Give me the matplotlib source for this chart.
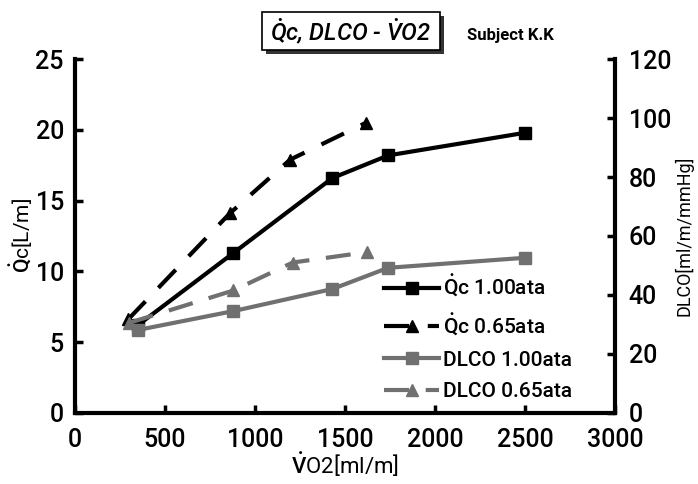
import matplotlib
matplotlib.use("Agg")
import matplotlib.pyplot as plt
from matplotlib.patches import Rectangle

# values
vo2_qc_100 = [350, 880, 1430, 1740, 2500]
qc_100 = [6.2, 11.3, 16.6, 18.2, 19.8]
vo2_qc_065 = [295, 860, 1195, 1615]
qc_065 = [6.6, 14.1, 17.9, 20.5]
vo2_dl_100 = [350, 880, 1430, 1740, 2500]
dlco_100 = [28.1, 34.5, 42.0, 49.2, 52.6]
vo2_dl_065 = [300, 880, 1210, 1620]
dlco_065 = [30.5, 41.5, 51.0, 54.5]

x_ticks = [0, 500, 1000, 1500, 2000, 2500, 3000]
left_ticks = [0, 5, 10, 15, 20, 25]
right_ticks = [0, 20, 40, 60, 80, 100, 120]

plt.rcParams["font.family"] = ["Roboto", "DejaVu Sans"]
plt.rcParams["font.weight"] = "medium"
plt.rcParams["mathtext.fontset"] = "custom"
plt.rcParams["mathtext.rm"] = "Roboto:medium"
plt.rcParams["mathtext.it"] = "Roboto:italic:medium"

fig = plt.figure(figsize=(6.98, 4.84), dpi=100)
ax = fig.add_axes([0.1075, 0.1473, 0.7735, 0.7302])
ax2 = ax.twinx()

gray = "#707070"
h1, = ax.plot(vo2_qc_100, qc_100, color="black", lw=3, marker="s", ms=8,
              label=r"$\dot{\mathrm{Q}}$c 1.00ata")
h2, = ax.plot(vo2_qc_065, qc_065, color="black", lw=3, marker="^", ms=8,
              dashes=(6, 4.5), label=r"$\dot{\mathrm{Q}}$c 0.65ata")
h3, = ax2.plot(vo2_dl_100, dlco_100, color=gray, lw=3, marker="s", ms=8,
               label="DLCO 1.00ata")
h4, = ax2.plot(vo2_dl_065, dlco_065, color=gray, lw=3, marker="^", ms=8,
               dashes=(6, 4), label="DLCO 0.65ata")

ax.set_xlim(0, 3000)
ax.set_ylim(0, 25)
ax2.set_ylim(0, 120)
ax.set_xticks(x_ticks)
ax.set_yticks(left_ticks)
ax2.set_yticks(right_ticks)

for a in (ax, ax2):
    a.spines["top"].set_visible(False)
    for s in a.spines.values():
        s.set_linewidth(3)
    a.tick_params(direction="in", length=6, width=2.5, labelsize=18)
ax.tick_params(axis="x", pad=11)
ax.tick_params(axis="y", pad=8)
ax2.tick_params(axis="y", pad=10)
ax2.spines["left"].set_visible(False)
ax2.spines["bottom"].set_visible(False)
ax.spines["right"].set_visible(False)

ax.set_xlabel(r"$\dot{\mathrm{V}}$O2[ml/m]", fontsize=16, labelpad=-1)
ax.set_ylabel(r"$\dot{\mathrm{Q}}$c[L/m]", fontsize=15, labelpad=0)
ax2.set_ylabel("DLCO[ml/m/mmHg]", fontsize=13, labelpad=2)

ax.legend(handles=[h1, h2, h3, h4], loc="lower right",
          bbox_to_anchor=(0.955, -0.02), frameon=False, fontsize=15,
          handlelength=2.6, handletextpad=0.2, labelspacing=0.6)

# boxed title with a drop shadow
fig.patches.append(Rectangle((0.3811, 0.8884), 0.255, 0.0785, transform=fig.transFigure,
                             fc="#333333", ec="none", zorder=1))
fig.patches.append(Rectangle((0.3754, 0.8967), 0.255, 0.0785, transform=fig.transFigure,
                             fc="white", ec="black", lw=1.2, zorder=2))
fig.text(0.503, 0.934, r"$\dot{Q}$c, DLCO - $\dot{V}$O2", fontsize=17, style="italic",
         ha="center", va="center", zorder=3)
fig.text(0.669, 0.926, "Subject K.K", fontsize=12, ha="left", va="center",
         fontweight="bold")

fig.savefig("out.png", dpi=100)
